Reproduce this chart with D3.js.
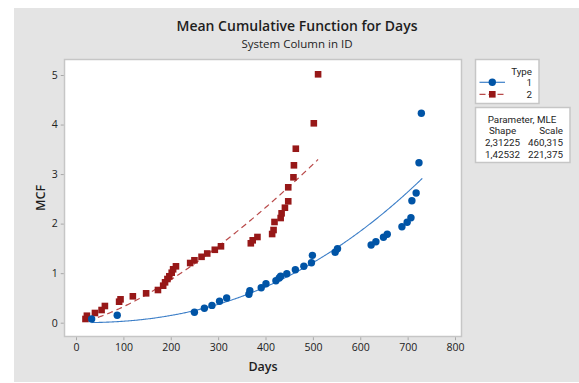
<!DOCTYPE html>
<html>
<head>
<meta charset="utf-8">
<script src="https://cdn.jsdelivr.net/npm/d3@7"></script>
<style>
  html, body { margin: 0; padding: 0; background: #ffffff; }
  svg { display: block; font-family: "Open Sans", "Noto Sans", sans-serif; }
</style>
</head>
<body>
<svg id="chart" width="579" height="383"></svg>
<script>
// Event days and mean cumulative function values, Type 1 systems
const type1Days = [33, 87, 250, 271, 287, 303, 318, 365, 367, 391, 401, 422, 429, 432, 445, 463, 481, 497, 499, 547, 552, 623, 633, 649, 657, 688, 699, 707, 709, 718, 724, 729];
const type1MCF  = [0.075, 0.149, 0.21, 0.291, 0.349, 0.432, 0.498, 0.573, 0.646, 0.707, 0.787, 0.848, 0.902, 0.937, 0.989, 1.07, 1.138, 1.211, 1.36, 1.421, 1.494, 1.568, 1.635, 1.724, 1.784, 1.938, 2.027, 2.12, 2.463, 2.618, 3.23, 4.227];

// Event days and mean cumulative function values, Type 2 systems
const type2Days = [20, 23, 40, 54, 61, 91, 94, 120, 148, 173, 184, 188, 193, 197, 202, 205, 211, 241, 250, 265, 277, 293, 306, 369, 373, 383, 414, 417, 419, 432, 434, 441, 448, 448, 459, 460, 464, 502, 511];
const type2MCF  = [0.075, 0.141, 0.196, 0.256, 0.337, 0.424, 0.472, 0.533, 0.593, 0.66, 0.747, 0.815, 0.882, 0.937, 1.009, 1.078, 1.138, 1.205, 1.26, 1.33, 1.397, 1.472, 1.542, 1.603, 1.663, 1.73, 1.79, 1.871, 2.033, 2.113, 2.208, 2.321, 2.45, 2.733, 2.935, 3.177, 3.512, 4.025, 5.014];

// Power-law (MLE) fit parameters per type
const typeLabels = ["1", "2"];
const shapeParams = [2.31225, 1.42532];
const scaleParams = [460.315, 221.375];
const shapeText = ["2,31225", "1,42532"];
const scaleText = ["460,315", "221,375"];

const xTicks = [0, 100, 200, 300, 400, 500, 600, 700, 800];
const yTicks = [0, 1, 2, 3, 4, 5];

const blue = "#0054a6", blueLine = "#3d7fc8";
const red = "#971818", redLine = "#b94a4a";
const ink = "#1e1e1e";

const svg = d3.select("#chart");

// panel background
svg.append("rect").attr("x", 14).attr("y", 8).attr("width", 579 - 14).attr("height", 374)
  .attr("fill", "#e4e4e4");

const plot = { left: 64.5, right: 461.5, top: 59.5, bottom: 336.5 };

const x = d3.scaleLinear().domain([0, 800]).range([76, 455]);
const y = d3.scaleLinear().domain([0, 5]).range([322.7, 75]);

// plot area
svg.append("rect")
  .attr("x", plot.left).attr("y", plot.top)
  .attr("width", plot.right - plot.left).attr("height", plot.bottom - plot.top)
  .attr("fill", "#ffffff").attr("stroke", "#c6c6c6").attr("stroke-width", 1.5);

// axes
const xAxis = svg.append("g").attr("transform", `translate(0,${plot.bottom + 0.75})`)
  .call(d3.axisBottom(x).tickValues(xTicks).tickSize(3).tickPadding(3).tickFormat(d3.format("d")));
const yAxis = svg.append("g").attr("transform", `translate(${plot.left - 0.75},0)`)
  .call(d3.axisLeft(y).tickValues(yTicks).tickSize(3).tickPadding(3).tickFormat(d3.format("d")));
[xAxis, yAxis].forEach(g => {
  g.select(".domain").remove();
  g.selectAll(".tick line").attr("stroke", "#a8a8a8");
  g.selectAll(".tick text").attr("fill", "#222").style("font-size", "10.5px")
    .style("font-family", "'Open Sans', sans-serif");
});

// titles
svg.append("text").attr("x", 297).attr("y", 31).attr("text-anchor", "middle")
  .attr("fill", ink).style("font-size", "14px").style("font-weight", 600)
  .text("Mean Cumulative Function for Days");
svg.append("text").attr("x", 297).attr("y", 47.5).attr("text-anchor", "middle")
  .attr("fill", ink).style("font-size", "11.5px")
  .text("System Column in ID");

svg.append("text").attr("x", 263).attr("y", 371).attr("text-anchor", "middle")
  .attr("fill", ink).style("font-size", "12.5px").style("font-weight", 600)
  .text("Days");
svg.append("text").attr("transform", "translate(45,198) rotate(-90)").attr("text-anchor", "middle")
  .attr("fill", ink).style("font-size", "12.5px").style("font-weight", 600)
  .text("MCF");

// fitted power-law MCF curves
function fitCurve(days, shape, scale) {
  const lo = d3.min(days), hi = d3.max(days);
  return d3.range(lo, hi + 1, 2).concat([hi]).map(t => [t, Math.pow(t / scale, shape)]);
}
const line = d3.line().x(d => x(d[0])).y(d => y(d[1]));

const plotG = svg.append("g");
plotG.append("path").datum(fitCurve(type1Days.concat([731]), shapeParams[0], scaleParams[0]))
  .attr("d", line).attr("fill", "none").attr("stroke", blueLine).attr("stroke-width", 1.1);
plotG.append("path").datum(fitCurve([26].concat(type2Days), shapeParams[1], scaleParams[1]).filter(d => d[0] >= 26))
  .attr("d", line).attr("fill", "none").attr("stroke", redLine).attr("stroke-width", 1.2)
  .attr("stroke-dasharray", "6,4");

// observed MCF points
const sq = 6.6;
plotG.selectAll("rect.t2").data(d3.zip(type2Days, type2MCF)).join("rect")
  .attr("class", "t2")
  .attr("x", d => x(d[0]) - sq / 2).attr("y", d => y(d[1]) - sq / 2)
  .attr("width", sq).attr("height", sq).attr("fill", red);
plotG.selectAll("circle.t1").data(d3.zip(type1Days, type1MCF)).join("circle")
  .attr("class", "t1")
  .attr("cx", d => x(d[0])).attr("cy", d => y(d[1])).attr("r", 3.7).attr("fill", blue);

// legend: types
const legFont = "Roboto, 'Open Sans', sans-serif";
const lg = svg.append("g").style("font-size", "9.8px").style("font-family", legFont).attr("fill", ink);
lg.append("rect").attr("x", 475.5).attr("y", 59.5).attr("width", 63.5).attr("height", 44)
  .attr("fill", "#ffffff").attr("stroke", "#c6c6c6").attr("stroke-width", 1.5);
lg.append("text").attr("x", 532).attr("y", 74.5).attr("text-anchor", "end").text("Type");
const legRows = [
  { label: typeLabels[0], yy: 82.3, color: blue, lineColor: blueLine, dash: null, shape: "circle" },
  { label: typeLabels[1], yy: 94.3, color: red, lineColor: redLine, dash: "6,3", shape: "square" }
];
legRows.forEach(r => {
  lg.append("line").attr("x1", 479.5).attr("x2", 505).attr("y1", r.yy).attr("y2", r.yy)
    .attr("stroke", r.lineColor).attr("stroke-width", 1.2).attr("stroke-dasharray", r.dash);
  if (r.shape === "circle") {
    lg.append("circle").attr("cx", 492.3).attr("cy", r.yy).attr("r", 3.7).attr("fill", r.color);
  } else {
    lg.append("rect").attr("x", 492.3 - sq / 2).attr("y", r.yy - sq / 2)
      .attr("width", sq).attr("height", sq).attr("fill", r.color);
  }
  lg.append("text").attr("x", 532).attr("y", r.yy + 3.6).attr("text-anchor", "end").text(r.label);
});

// legend: parameter table
const pt = svg.append("g").style("font-size", "9.8px").style("font-family", legFont).attr("fill", ink);
pt.append("rect").attr("x", 475.5).attr("y", 107.5).attr("width", 94.5).attr("height", 55)
  .attr("fill", "#ffffff").attr("stroke", "#c6c6c6").attr("stroke-width", 1.5);
pt.append("text").attr("x", 522).attr("y", 122.5).attr("text-anchor", "middle").text("Parameter, MLE");
pt.append("text").attr("x", 502.5).attr("y", 134.3).attr("text-anchor", "middle").text("Shape");
pt.append("text").attr("x", 563).attr("y", 134.3).attr("text-anchor", "end").text("Scale");
shapeText.forEach((s, i) => {
  const yy = 146 + i * 11.7;
  pt.append("text").attr("x", 502.5).attr("y", yy).attr("text-anchor", "middle").text(s);
  pt.append("text").attr("x", 563).attr("y", yy).attr("text-anchor", "end").text(scaleText[i]);
});
</script>
</body>
</html>
